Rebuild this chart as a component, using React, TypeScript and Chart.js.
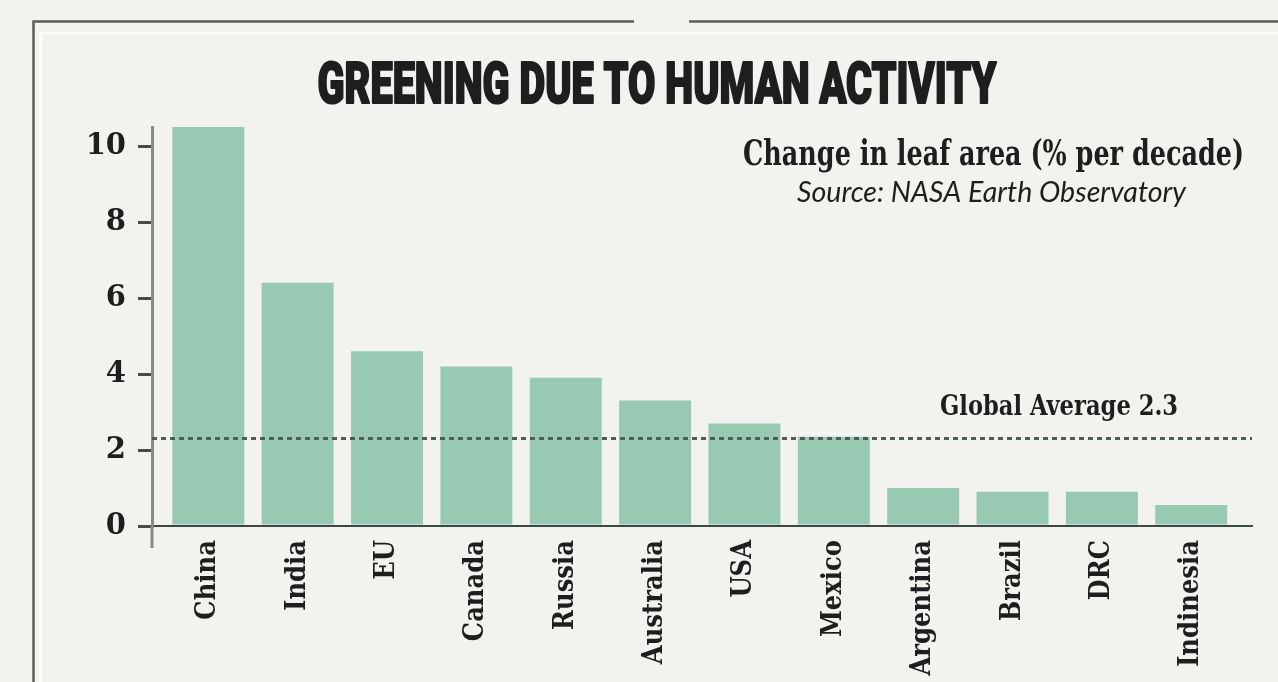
import { useEffect, useRef } from 'react';
import { Chart, registerables } from 'chart.js';

Chart.register(...registerables);

// Leaf-area change per country (% per decade)
const categories = ['China', 'India', 'EU', 'Canada', 'Russia', 'Australia', 'USA', 'Mexico', 'Argentina', 'Brazil', 'DRC', 'Indinesia'];
const leafAreaChange = [10.5, 6.4, 4.6, 4.2, 3.9, 3.3, 2.7, 2.35, 1.0, 0.9, 0.9, 0.55];
const yTickValues = [0, 2, 4, 6, 8, 10];
const globalAverage = 2.3;

const titleText = 'GREENING DUE TO HUMAN ACTIVITY';
const headingText = 'Change in leaf area (% per decade)';
const sourceText = 'Source: NASA Earth Observatory';
const averageLabel = `Global Average ${globalAverage}`;

const PAGE_BG = '#f2f2ee';
const INK = '#1e1e1e';
const BAR_GREEN = '#98c9b3';
const AXIS_GREY = '#8a8a8a';
const SERIF_CONDENSED = '"DejaVu Serif Condensed", "DejaVu Serif"';

// Draw a line of text squeezed horizontally to a given width.
function fitText(
  ctx: CanvasRenderingContext2D,
  text: string,
  font: string,
  x: number,
  y: number,
  width: number,
  align: 'left' | 'center' | 'right',
  heavy = 0
) {
  ctx.save();
  ctx.font = font;
  ctx.fillStyle = INK;
  ctx.strokeStyle = INK;
  ctx.textAlign = 'left';
  ctx.textBaseline = 'alphabetic';
  const measured = ctx.measureText(text).width;
  const sx = width / measured;
  const left = align === 'center' ? x - width / 2 : align === 'right' ? x - width : x;
  ctx.translate(left, y);
  ctx.scale(sx, 1);
  ctx.fillText(text, 0, 0);
  if (heavy > 0) {
    ctx.lineWidth = heavy;
    ctx.lineJoin = 'round';
    ctx.strokeText(text, 0, 0);
  }
  ctx.restore();
}

// Page background and the double frame along the top and left edges.
const framePlugin = {
  id: 'frame',
  beforeDraw(chart: any) {
    const { ctx, width, height } = chart;
    ctx.save();
    ctx.fillStyle = PAGE_BG;
    ctx.fillRect(0, 0, width, height);

    ctx.strokeStyle = '#fbfbf8';
    ctx.lineWidth = 3;
    ctx.beginPath();
    ctx.moveTo(41, height);
    ctx.lineTo(41, 33);
    ctx.lineTo(width, 33);
    ctx.stroke();

    ctx.strokeStyle = '#5c5c5c';
    ctx.lineWidth = 2.5;
    ctx.beginPath();
    ctx.moveTo(33.5, height);
    ctx.lineTo(33.5, 21.5);
    ctx.lineTo(634, 21.5);
    ctx.moveTo(689, 21.5);
    ctx.lineTo(width, 21.5);
    ctx.stroke();
    ctx.restore();
  },
};

// Headline, measure name and source line.
const headerPlugin = {
  id: 'header',
  afterDraw(chart: any) {
    const { ctx } = chart;
    fitText(ctx, titleText, '900 58px Roboto', 657, 103, 679, 'center', 2.2);
    fitText(ctx, headingText, `bold 36px ${SERIF_CONDENSED}`, 1244, 165, 501, 'right');
    fitText(ctx, sourceText, 'italic 29px Lato', 1186, 202, 389, 'right');
  },
};

// Dotted global-average reference line with its label, plus the y-axis stub below zero.
const averagePlugin = {
  id: 'average',
  afterDatasetsDraw(chart: any) {
    const { ctx, chartArea, scales } = chart;
    const y = scales.y.getPixelForValue(globalAverage);
    ctx.save();
    ctx.strokeStyle = '#4f5d56';
    ctx.lineWidth = 3;
    ctx.setLineDash([5, 4]);
    ctx.beginPath();
    ctx.moveTo(chartArea.left, y);
    ctx.lineTo(chartArea.right, y);
    ctx.stroke();
    ctx.restore();

    fitText(ctx, averageLabel, `bold 28px ${SERIF_CONDENSED}`, chartArea.right - 74, y - 24, 238, 'right');
  },
  afterDraw(chart: any) {
    const { ctx, chartArea } = chart;
    ctx.save();
    ctx.strokeStyle = AXIS_GREY;
    ctx.lineWidth = 3;
    ctx.beginPath();
    ctx.moveTo(chartArea.left, chartArea.bottom);
    ctx.lineTo(chartArea.left, chartArea.bottom + 22);
    ctx.stroke();
    ctx.restore();
  },
};

export default function App() {
  const canvasRef = useRef<HTMLCanvasElement | null>(null);

  useEffect(() => {
    if (!canvasRef.current) return;
    const points = categories.map((_, i) => ({ x: i, y: leafAreaChange[i] }));

    const chart = new Chart(canvasRef.current, {
      type: 'bar',
      data: {
        datasets: [
          {
            data: points as any,
            backgroundColor: BAR_GREEN,
            borderWidth: 0,
            barPercentage: 0.805,
            categoryPercentage: 1,
          },
        ],
      },
      options: {
        animation: false,
        responsive: false,
        devicePixelRatio: 1,
        layout: { padding: { top: 127, right: 26, bottom: 0, left: 0 } },
        plugins: {
          legend: { display: false },
          tooltip: { enabled: false },
        },
        scales: {
          x: {
            type: 'linear',
            offset: false,
            min: -0.63,
            max: categories.length - 1 + 0.68,
            grid: { display: false, drawTicks: false, offset: false },
            border: { display: true, color: '#3b4741', width: 2 },
            ticks: {
              autoSkip: false,
              minRotation: 90,
              maxRotation: 90,
              padding: 14,
              color: INK,
              font: { family: SERIF_CONDENSED, size: 27, weight: 'bold' },
              callback: (value: any) => categories[Math.round(Number(value))] ?? '',
            },
            afterBuildTicks: (scale: any) => {
              scale.ticks = categories.map((_, i) => ({ value: i }));
            },
            afterFit: (scale: any) => {
              scale.height = 156;
            },
          },
          y: {
            min: 0,
            max: 10.5,
            grid: {
              drawOnChartArea: false,
              drawTicks: true,
              tickLength: 14,
              color: '#4a4a4a',
              lineWidth: 3,
            },
            border: { display: true, color: AXIS_GREY, width: 3 },
            ticks: {
              padding: 12,
              color: INK,
              font: { family: '"DejaVu Serif"', size: 29, weight: 'bold' },
            },
            afterBuildTicks: (scale: any) => {
              scale.ticks = yTickValues.map((v) => ({ value: v }));
            },
            afterFit: (scale: any) => {
              scale.width = 152;
            },
          },
        },
      },
      plugins: [framePlugin, averagePlugin, headerPlugin],
    });

    return () => chart.destroy();
  }, []);

  return (
    <div style={{ position: 'absolute', left: 0, top: 0, width: 1278, height: 682, background: PAGE_BG }}>
      <canvas ref={canvasRef} width={1278} height={682} />
    </div>
  );
}
